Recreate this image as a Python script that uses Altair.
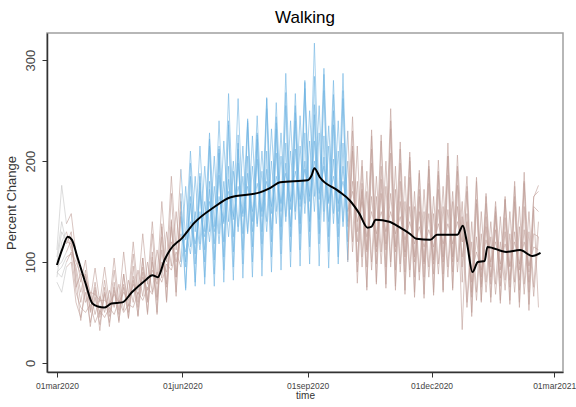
import altair as alt
import pandas as pd

# Twice-weekly readings for eight cities, % of baseline
start = "2020-03-01"
n_obs = 102

city_1 = [112, 176, 138, 148, 108, 80, 102, 62, 94, 60,
          95, 58, 104, 60, 110, 66, 120, 72, 128, 78,
          140, 82, 160, 100, 185, 112, 192, 122, 210, 130,
          215, 130, 228, 135, 240, 138, 267, 142, 262, 145,
          242, 140, 245, 145, 263, 148, 258, 150, 287, 152,
          267, 155, 278, 160, 317, 162, 292, 158, 280, 150,
          287, 140, 244, 130, 201, 110, 231, 115, 226, 118,
          252, 115, 219, 110, 209, 105, 191, 100, 201, 102,
          201, 105, 218, 105, 206, 120, 185, 80, 184, 85,
          168, 95, 160, 92, 165, 95, 180, 92, 189, 90,
          164, 176]
city_2 = [100, 130, 120, 118, 90, 60, 88, 50, 80, 48,
          82, 50, 92, 52, 88, 56, 108, 60, 104, 62,
          128, 65, 135, 78, 168, 85, 160, 95, 198, 98,
          188, 100, 222, 102, 215, 105, 240, 110, 212, 112,
          238, 115, 226, 118, 262, 120, 238, 122, 255, 125,
          248, 128, 280, 130, 256, 128, 270, 125, 250, 125,
          262, 120, 215, 100, 178, 95, 212, 98, 195, 95,
          232, 92, 198, 90, 204, 85, 172, 85, 192, 88,
          186, 88, 205, 90, 190, 95, 170, 65, 162, 75,
          158, 78, 150, 76, 162, 75, 165, 72, 178, 70,
          155, 150]
city_3 = [95, 100, 110, 122, 82, 42, 80, 36, 72, 32,
          75, 36, 80, 40, 88, 44, 96, 46, 104, 48,
          110, 50, 138, 62, 142, 66, 168, 74, 165, 76,
          185, 78, 180, 76, 208, 80, 195, 82, 218, 84,
          205, 85, 222, 86, 210, 90, 232, 92, 218, 95,
          240, 96, 228, 98, 246, 96, 225, 94, 236, 98,
          218, 100, 210, 79, 172, 75, 198, 78, 182, 74,
          208, 72, 180, 68, 184, 65, 165, 64, 178, 67,
          172, 70, 186, 72, 176, 33, 148, 46, 158, 60,
          145, 60, 146, 59, 144, 58, 160, 55, 155, 52,
          152, 55]
city_4 = [90, 85, 100, 110, 95, 70, 92, 52, 75, 45,
          70, 46, 75, 48, 78, 50, 86, 55, 95, 60,
          100, 62, 112, 75, 135, 85, 145, 100, 158, 108,
          170, 112, 172, 118, 186, 120, 182, 125, 198, 128,
          188, 130, 202, 130, 192, 132, 208, 135, 198, 135,
          212, 138, 200, 140, 220, 142, 204, 140, 202, 138,
          195, 135, 180, 120, 170, 112, 165, 110, 168, 112,
          168, 110, 160, 105, 155, 100, 150, 98, 148, 98,
          152, 100, 152, 100, 155, 105, 140, 70, 125, 78,
          135, 85, 132, 84, 130, 82, 130, 82, 132, 80,
          128, 125]
city_5 = [80, 70, 95, 100, 60, 45, 70, 40, 65, 38,
          68, 40, 72, 42, 75, 45, 82, 47, 90, 50,
          105, 48, 125, 60, 140, 70, 150, 72, 185, 80,
          178, 85, 215, 88, 212, 92, 236, 95, 226, 98,
          240, 100, 228, 102, 252, 105, 244, 108, 268, 110,
          255, 112, 272, 115, 284, 118, 286, 110, 266, 105,
          270, 102, 230, 90, 195, 72, 225, 80, 220, 78,
          240, 76, 212, 72, 200, 70, 188, 68, 195, 70,
          190, 72, 205, 74, 195, 80, 175, 50, 180, 62,
          165, 65, 155, 62, 162, 62, 175, 60, 180, 58,
          165, 170]
city_6 = [85, 120, 130, 112, 100, 88, 85, 70, 68, 62,
          62, 58, 68, 60, 70, 62, 78, 68, 85, 72,
          92, 78, 100, 90, 120, 100, 128, 110, 140, 118,
          150, 125, 160, 130, 165, 140, 170, 145, 175, 148,
          175, 150, 178, 150, 180, 155, 185, 158, 188, 160,
          190, 162, 192, 165, 200, 168, 195, 160, 185, 158,
          180, 150, 170, 140, 160, 125, 150, 128, 150, 130,
          150, 128, 145, 122, 140, 118, 135, 115, 132, 115,
          138, 118, 138, 118, 140, 120, 125, 90, 110, 92,
          122, 100, 120, 98, 118, 96, 120, 98, 120, 96,
          115, 112]
city_7 = [105, 140, 118, 130, 75, 88, 60, 70, 48, 66,
          50, 72, 55, 78, 52, 82, 60, 92, 66, 100,
          70, 112, 84, 130, 96, 150, 100, 175, 115, 185,
          118, 195, 130, 205, 128, 220, 140, 200, 135, 215,
          130, 225, 138, 210, 140, 232, 150, 228, 145, 240,
          150, 245, 158, 250, 165, 255, 150, 235, 148, 240,
          140, 230, 120, 215, 105, 190, 100, 185, 110, 200,
          100, 195, 98, 185, 92, 170, 90, 172, 95, 165,
          98, 175, 95, 170, 100, 160, 60, 140, 70, 150,
          80, 140, 78, 145, 82, 150, 80, 155, 78, 150,
          75, 140]
city_8 = [90, 95, 105, 108, 70, 55, 50, 58, 40, 52,
          45, 55, 48, 62, 50, 58, 55, 70, 62, 75,
          68, 90, 80, 98, 92, 110, 95, 130, 108, 150,
          112, 160, 120, 175, 118, 180, 125, 190, 130, 185,
          128, 195, 135, 190, 130, 200, 138, 205, 140, 210,
          142, 215, 148, 220, 150, 228, 140, 215, 138, 210,
          135, 200, 110, 180, 95, 170, 92, 165, 98, 175,
          95, 172, 90, 160, 85, 155, 82, 150, 85, 148,
          88, 155, 85, 160, 90, 145, 55, 120, 62, 128,
          70, 125, 68, 120, 72, 128, 70, 135, 68, 130,
          66, 125]

cities = {"city_1": city_1, "city_2": city_2, "city_3": city_3, "city_4": city_4,
          "city_5": city_5, "city_6": city_6, "city_7": city_7, "city_8": city_8}

# Periods (observation index ranges, boundaries shared so lines join up)
periods = [("pre", 0, 2), ("spring", 2, 26), ("summer", 26, 61), ("autumn", 61, n_obs - 1)]
period_names = ["pre", "spring", "summer", "autumn"]
period_colors = ["#c4c4c4", "#bf9e97", "#6fb4e3", "#bf9e97"]

# Smoothed average across cities
avg_dates = ["2020-03-01", "2020-03-05", "2020-03-09", "2020-03-12", "2020-03-16",
             "2020-03-22", "2020-03-27", "2020-03-31", "2020-04-05", "2020-04-10",
             "2020-04-18", "2020-04-25", "2020-05-05", "2020-05-10", "2020-05-14",
             "2020-05-19", "2020-05-23", "2020-06-01", "2020-06-10", "2020-06-24",
             "2020-07-06", "2020-07-28", "2020-08-04", "2020-08-12", "2020-09-01",
             "2020-09-04", "2020-09-06", "2020-09-10", "2020-09-23", "2020-10-02",
             "2020-10-09", "2020-10-15", "2020-10-18", "2020-10-21", "2020-10-31",
             "2020-11-08", "2020-11-15", "2020-11-20", "2020-11-30", "2020-12-05",
             "2020-12-20", "2020-12-24", "2020-12-27", "2020-12-31", "2021-01-04",
             "2021-01-09", "2021-01-11", "2021-01-25", "2021-02-04", "2021-02-13",
             "2021-02-19"]
avg_values = [97, 113, 125, 122, 105, 79, 59, 56, 55, 59,
              60, 70, 82, 87, 85, 102, 112, 124, 139, 154,
              164, 169, 173, 179, 181, 186, 193, 184, 171, 161,
              148, 134, 135, 142, 140, 134, 128, 123, 122, 127,
              127, 136, 119, 90, 100, 101, 115, 110, 112, 106,
              109]

dates = pd.date_range(start, periods=n_obs, freq="84h").strftime("%Y-%m-%dT%H:%M:%S")

rows = []
for name, vals in cities.items():
    for period, lo, hi in periods:
        for i in range(lo, hi + 1):
            rows.append({"date": dates[i], "value": vals[i], "city": name, "period": period})
df = pd.DataFrame(rows)
avg_df = pd.DataFrame({"date": avg_dates, "value": avg_values})

x_scale = alt.Scale(domain=[alt.DateTime(year=2020, month=2, date=22, hours=17),
                            alt.DateTime(year=2021, month=3, date=7, hours=12)])
y_scale = alt.Scale(domain=[-9, 327], nice=False, zero=False)

tick_dates = [alt.DateTime(year=2020, month=3, date=1), alt.DateTime(year=2020, month=6, date=1),
              alt.DateTime(year=2020, month=9, date=1), alt.DateTime(year=2020, month=12, date=1),
              alt.DateTime(year=2021, month=3, date=1)]

x_axis = alt.Axis(values=tick_dates, labelExpr="lower(timeFormat(datum.value, '%d%b%Y'))",
                  title="time", labelFontSize=8.5, titleFontSize=10, labelPadding=4,
                  titlePadding=1, grid=False)
y_axis = alt.Axis(values=[0, 100, 200, 300], title="Percent Change", labelAngle=270,
                  labelFontSize=13, titleFontSize=13, labelPadding=5, titlePadding=6,
                  grid=False)

lines = alt.Chart(df).mark_line(strokeWidth=1, opacity=0.6).encode(
    x=alt.X("date:T", scale=x_scale, axis=x_axis),
    y=alt.Y("value:Q", scale=y_scale, axis=y_axis),
    color=alt.Color("period:N", scale=alt.Scale(domain=period_names, range=period_colors), legend=None),
    detail=["city:N", "period:N"],
)

avg_line = alt.Chart(avg_df).mark_line(color="black", strokeWidth=2, interpolate="monotone").encode(
    x=alt.X("date:T", scale=x_scale),
    y=alt.Y("value:Q", scale=y_scale),
)

chart = alt.layer(lines, avg_line).properties(
    width=516, height=339,
    title=alt.TitleParams("Walking", fontSize=17, fontWeight="normal", font="Liberation Sans",
                          anchor="middle", offset=6),
    autosize=alt.AutoSizeParams(type="none"),
    padding={"left": 47, "top": 33, "right": 13, "bottom": 35},
).configure_view(
    stroke="#a0a0a0", strokeWidth=1.5
).configure_axis(
    domainColor="#333333", domainWidth=1.5, tickColor="#333333", tickSize=5,
    labelColor="#444444", titleColor="#333333", labelFont="Liberation Sans",
    titleFont="Liberation Sans", titleFontWeight="normal",
)

chart.save("out.html", embed_options={"renderer": "svg", "actions": False})
